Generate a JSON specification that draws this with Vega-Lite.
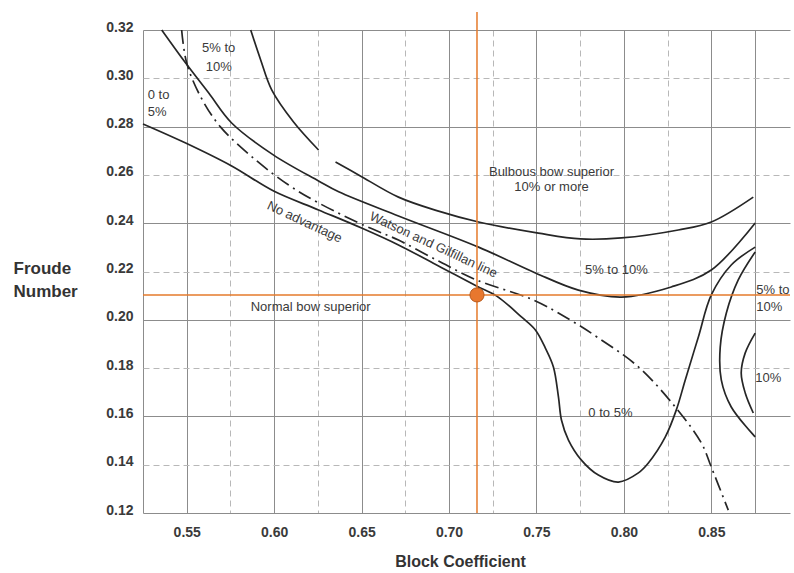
{
  "$schema": "https://vega.github.io/schema/vega-lite/v6.json",
  "width": 647,
  "height": 483,
  "autosize": {"type": "none"},
  "padding": {"left": 143, "top": 30, "right": 4, "bottom": 60},
  "background": "white",
  "config": {"view": {"stroke": null}, "font": "Liberation Sans"},
  "datasets": {
    "curves": [
      {"curve": "upper10a", "ord": 1, "x": 0.5866, "y": 0.3200},
      {"curve": "upper10a", "ord": 2, "x": 0.5923, "y": 0.3076},
      {"curve": "upper10a", "ord": 3, "x": 0.5986, "y": 0.2952},
      {"curve": "upper10a", "ord": 4, "x": 0.6111, "y": 0.2819},
      {"curve": "upper10a", "ord": 5, "x": 0.6254, "y": 0.2703},
      {"curve": "upper10b", "ord": 1, "x": 0.6351, "y": 0.2653},
      {"curve": "upper10b", "ord": 2, "x": 0.6483, "y": 0.2600},
      {"curve": "upper10b", "ord": 3, "x": 0.6711, "y": 0.2508},
      {"curve": "upper10b", "ord": 4, "x": 0.6940, "y": 0.2450},
      {"curve": "upper10b", "ord": 5, "x": 0.7169, "y": 0.2405},
      {"curve": "upper10b", "ord": 6, "x": 0.7511, "y": 0.2359},
      {"curve": "upper10b", "ord": 7, "x": 0.7751, "y": 0.2335},
      {"curve": "upper10b", "ord": 8, "x": 0.7986, "y": 0.2339},
      {"curve": "upper10b", "ord": 9, "x": 0.8311, "y": 0.2372},
      {"curve": "upper10b", "ord": 10, "x": 0.8500, "y": 0.2405},
      {"curve": "upper10b", "ord": 11, "x": 0.8740, "y": 0.2508},
      {"curve": "lineA", "ord": 1, "x": 0.5357, "y": 0.3200},
      {"curve": "lineA", "ord": 2, "x": 0.5494, "y": 0.3063},
      {"curve": "lineA", "ord": 3, "x": 0.5626, "y": 0.2939},
      {"curve": "lineA", "ord": 4, "x": 0.5757, "y": 0.2815},
      {"curve": "lineA", "ord": 5, "x": 0.5997, "y": 0.2682},
      {"curve": "lineA", "ord": 6, "x": 0.6254, "y": 0.2575},
      {"curve": "lineA", "ord": 7, "x": 0.6369, "y": 0.2530},
      {"curve": "lineA", "ord": 8, "x": 0.6711, "y": 0.2430},
      {"curve": "lineA", "ord": 9, "x": 0.7169, "y": 0.2301},
      {"curve": "lineA", "ord": 10, "x": 0.7494, "y": 0.2194},
      {"curve": "lineA", "ord": 11, "x": 0.7740, "y": 0.2123},
      {"curve": "lineA", "ord": 12, "x": 0.7986, "y": 0.2094},
      {"curve": "lineA", "ord": 13, "x": 0.8271, "y": 0.2136},
      {"curve": "lineA", "ord": 14, "x": 0.8500, "y": 0.2206},
      {"curve": "lineA", "ord": 15, "x": 0.8751, "y": 0.2401},
      {"curve": "noAdv", "ord": 1, "x": 0.5250, "y": 0.2811},
      {"curve": "noAdv", "ord": 2, "x": 0.5494, "y": 0.2732},
      {"curve": "noAdv", "ord": 3, "x": 0.5757, "y": 0.2637},
      {"curve": "noAdv", "ord": 4, "x": 0.5997, "y": 0.2533},
      {"curve": "noAdv", "ord": 5, "x": 0.6254, "y": 0.2455},
      {"curve": "noAdv", "ord": 6, "x": 0.6500, "y": 0.2380},
      {"curve": "noAdv", "ord": 7, "x": 0.6711, "y": 0.2310},
      {"curve": "noAdv", "ord": 8, "x": 0.6940, "y": 0.2223},
      {"curve": "noAdv", "ord": 9, "x": 0.7157, "y": 0.2140},
      {"curve": "noAdv", "ord": 10, "x": 0.7271, "y": 0.2099},
      {"curve": "noAdv", "ord": 11, "x": 0.7414, "y": 0.2012},
      {"curve": "noAdv", "ord": 12, "x": 0.7494, "y": 0.1958},
      {"curve": "noAdv", "ord": 13, "x": 0.7551, "y": 0.1883},
      {"curve": "noAdv", "ord": 14, "x": 0.7597, "y": 0.1805},
      {"curve": "noAdv", "ord": 15, "x": 0.7626, "y": 0.1680},
      {"curve": "noAdv", "ord": 16, "x": 0.7643, "y": 0.1585},
      {"curve": "noAdv", "ord": 17, "x": 0.7683, "y": 0.1502},
      {"curve": "noAdv", "ord": 18, "x": 0.7757, "y": 0.1419},
      {"curve": "noAdv", "ord": 19, "x": 0.7854, "y": 0.1357},
      {"curve": "noAdv", "ord": 20, "x": 0.7969, "y": 0.1328},
      {"curve": "noAdv", "ord": 21, "x": 0.8083, "y": 0.1366},
      {"curve": "noAdv", "ord": 22, "x": 0.8140, "y": 0.1407},
      {"curve": "noAdv", "ord": 23, "x": 0.8237, "y": 0.1515},
      {"curve": "noAdv", "ord": 24, "x": 0.8300, "y": 0.1627},
      {"curve": "noAdv", "ord": 25, "x": 0.8351, "y": 0.1751},
      {"curve": "noAdv", "ord": 26, "x": 0.8426, "y": 0.1929},
      {"curve": "noAdv", "ord": 27, "x": 0.8500, "y": 0.2103},
      {"curve": "noAdv", "ord": 28, "x": 0.8614, "y": 0.2227},
      {"curve": "noAdv", "ord": 29, "x": 0.8751, "y": 0.2301},
      {"curve": "rightArc", "ord": 1, "x": 0.8751, "y": 0.2281},
      {"curve": "rightArc", "ord": 2, "x": 0.8654, "y": 0.2165},
      {"curve": "rightArc", "ord": 3, "x": 0.8586, "y": 0.2028},
      {"curve": "rightArc", "ord": 4, "x": 0.8551, "y": 0.1887},
      {"curve": "rightArc", "ord": 5, "x": 0.8557, "y": 0.1751},
      {"curve": "rightArc", "ord": 6, "x": 0.8614, "y": 0.1639},
      {"curve": "rightArc", "ord": 7, "x": 0.8751, "y": 0.1515},
      {"curve": "arc10", "ord": 1, "x": 0.8751, "y": 0.1945},
      {"curve": "arc10", "ord": 2, "x": 0.8694, "y": 0.1863},
      {"curve": "arc10", "ord": 3, "x": 0.8671, "y": 0.1780},
      {"curve": "arc10", "ord": 4, "x": 0.8694, "y": 0.1697},
      {"curve": "arc10", "ord": 5, "x": 0.8740, "y": 0.1614},
      {"curve": "watson", "ord": 1, "x": 0.5471, "y": 0.3200},
      {"curve": "watson", "ord": 2, "x": 0.5500, "y": 0.3063},
      {"curve": "watson", "ord": 3, "x": 0.5580, "y": 0.2923},
      {"curve": "watson", "ord": 4, "x": 0.5694, "y": 0.2798},
      {"curve": "watson", "ord": 5, "x": 0.5894, "y": 0.2662},
      {"curve": "watson", "ord": 6, "x": 0.6083, "y": 0.2558},
      {"curve": "watson", "ord": 7, "x": 0.6254, "y": 0.2484},
      {"curve": "watson", "ord": 8, "x": 0.6523, "y": 0.2388},
      {"curve": "watson", "ord": 9, "x": 0.6711, "y": 0.2330},
      {"curve": "watson", "ord": 10, "x": 0.6940, "y": 0.2243},
      {"curve": "watson", "ord": 11, "x": 0.7157, "y": 0.2165},
      {"curve": "watson", "ord": 12, "x": 0.7483, "y": 0.2082},
      {"curve": "watson", "ord": 13, "x": 0.7694, "y": 0.1999},
      {"curve": "watson", "ord": 14, "x": 0.7854, "y": 0.1925},
      {"curve": "watson", "ord": 15, "x": 0.8083, "y": 0.1805},
      {"curve": "watson", "ord": 16, "x": 0.8294, "y": 0.1639},
      {"curve": "watson", "ord": 17, "x": 0.8443, "y": 0.1490},
      {"curve": "watson", "ord": 18, "x": 0.8500, "y": 0.1390},
      {"curve": "watson", "ord": 19, "x": 0.8597, "y": 0.1212}
    ],
    "labelsCenter": [
      {"label": "5% to", "x": 0.5683, "y": 0.3125},
      {"label": "10%", "x": 0.5683, "y": 0.3047},
      {"label": "Bulbous bow superior", "x": 0.7586, "y": 0.2612},
      {"label": "10% or more", "x": 0.7586, "y": 0.2550},
      {"label": "5% to 10%", "x": 0.7957, "y": 0.2206},
      {"label": "0 to 5%", "x": 0.7923, "y": 0.1614},
      {"label": "Normal bow superior", "x": 0.6209, "y": 0.2053}
    ],
    "labelsLeft": [
      {"label": "0 to", "x": 0.5277, "y": 0.2931},
      {"label": "5%", "x": 0.5277, "y": 0.2860},
      {"label": "5% to", "x": 0.8757, "y": 0.2123},
      {"label": "10%", "x": 0.8757, "y": 0.2053},
      {"label": "10%", "x": 0.8751, "y": 0.1759}
    ],
    "labelsRot": [
      {"label": "No advantage", "x": 0.6174, "y": 0.2405},
      {"label": "Watson and Gilfillan line", "x": 0.6911, "y": 0.2310}
    ]
  },
  "encoding": {
    "x": {
      "field": "x",
      "type": "quantitative",
      "scale": {"domain": [0.525, 0.895], "nice": false, "zero": false},
      "axis": {
        "values": [0.525, 0.55, 0.575, 0.6, 0.625, 0.65, 0.675, 0.7, 0.725, 0.75, 0.775, 0.8, 0.825, 0.85, 0.875],
        "format": ".2f",
        "labelExpr": "indexof([0.55, 0.6, 0.65, 0.7, 0.75, 0.8, 0.85], datum.value) >= 0 ? datum.label : ''",
        "labelOverlap": false,
        "grid": true,
        "gridColor": {"condition": {"test": "indexof([0.575, 0.625, 0.675, 0.725, 0.775, 0.825], datum.value) >= 0", "value": "#b8b8b8"}, "value": "#8c8c8c"},
        "gridDash": {"condition": {"test": "indexof([0.575, 0.625, 0.675, 0.725, 0.775, 0.825], datum.value) >= 0", "value": [6, 4]}, "value": []},
        "gridWidth": 1,
        "ticks": false,
        "domain": false,
        "labelFont": "Liberation Sans",
        "labelFontSize": 14,
        "labelFontWeight": "bold",
        "labelColor": "#3a3a3a",
        "labelPadding": 12,
        "title": "Block Coefficient",
        "titleFont": "Liberation Sans",
        "titleFontSize": 16,
        "titleFontWeight": "bold",
        "titleColor": "#333333",
        "titleX": 317,
        "titleY": 53,
        "titleAlign": "center",
        "titleBaseline": "alphabetic"
      }
    },
    "y": {
      "field": "y",
      "type": "quantitative",
      "scale": {"domain": [0.12, 0.32], "nice": false, "zero": false},
      "axis": {
        "values": [0.12, 0.14, 0.16, 0.18, 0.2, 0.22, 0.24, 0.26, 0.28, 0.3, 0.32],
        "format": ".2f",
        "labelOverlap": false,
        "grid": true,
        "gridColor": {"condition": {"test": "indexof([0.14, 0.18, 0.22, 0.26, 0.3], datum.value) >= 0", "value": "#b8b8b8"}, "value": "#8c8c8c"},
        "gridDash": {"condition": {"test": "indexof([0.14, 0.18, 0.22, 0.26, 0.3], datum.value) >= 0", "value": [6, 4]}, "value": []},
        "gridWidth": 1,
        "ticks": false,
        "domain": false,
        "labelFont": "Liberation Sans",
        "labelFontSize": 14,
        "labelFontWeight": "bold",
        "labelColor": "#3a3a3a",
        "labelPadding": 10,
        "labelOffset": -3,
        "title": ["Froude", "Number"],
        "titleFont": "Liberation Sans",
        "titleFontSize": 17,
        "titleFontWeight": "bold",
        "titleColor": "#333333",
        "titleAngle": 0,
        "titleAlign": "left",
        "titleBaseline": "alphabetic",
        "titleX": -130,
        "titleY": 243,
        "titleLineHeight": 23
      }
    }
  },
  "layer": [
    {
      "data": {"name": "curves"},
      "transform": [{"filter": "datum.curve != 'watson'"}],
      "mark": {"type": "line", "color": "#262626", "strokeWidth": 1.7, "interpolate": "catmull-rom"},
      "encoding": {
        "detail": {"field": "curve", "type": "nominal"},
        "order": {"field": "ord", "type": "quantitative"}
      }
    },
    {
      "data": {"name": "curves"},
      "transform": [{"filter": "datum.curve == 'watson'"}],
      "mark": {"type": "line", "color": "#262626", "strokeWidth": 1.7, "strokeDash": [14, 5, 2, 5], "interpolate": "catmull-rom"},
      "encoding": {
        "order": {"field": "ord", "type": "quantitative"}
      }
    },
    {
      "data": {"values": [{"x": 0.716, "y": 0.12, "y2": 0.3275}]},
      "mark": {"type": "rule", "color": "#e57a2b", "strokeWidth": 1.5},
      "encoding": {"y2": {"field": "y2"}}
    },
    {
      "data": {"values": [{"x": 0.525, "x2": 0.895, "y": 0.2103}]},
      "mark": {"type": "rule", "color": "#e57a2b", "strokeWidth": 1.5},
      "encoding": {"x2": {"field": "x2"}}
    },
    {
      "data": {"values": [{"x": 0.716, "y": 0.2103}]},
      "mark": {"type": "point", "filled": true, "fill": "#e8772e", "stroke": "#b85a1c", "strokeWidth": 1, "size": 200, "opacity": 1},
      "encoding": {}
    },
    {
      "data": {"name": "labelsCenter"},
      "mark": {"type": "text", "align": "center", "baseline": "middle", "font": "Liberation Sans", "fontSize": 13, "color": "#3a3a3a"},
      "encoding": {"text": {"field": "label"}}
    },
    {
      "data": {"name": "labelsLeft"},
      "mark": {"type": "text", "align": "left", "baseline": "middle", "font": "Liberation Sans", "fontSize": 13, "color": "#3a3a3a"},
      "encoding": {"text": {"field": "label"}}
    },
    {
      "data": {"name": "labelsRot"},
      "mark": {"type": "text", "align": "center", "baseline": "middle", "font": "Liberation Sans", "fontSize": 13, "color": "#3a3a3a", "angle": 25},
      "encoding": {"text": {"field": "label"}}
    }
  ]
}
